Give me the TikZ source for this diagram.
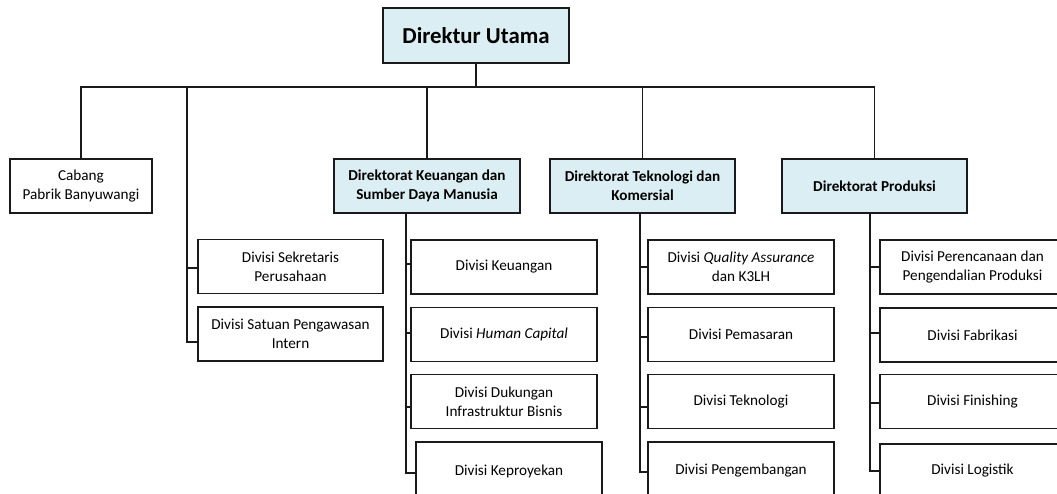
\documentclass[tikz,border=0pt]{standalone}
\usepackage{fontspec}
\setmainfont{Carlito}
\definecolor{headfill}{HTML}{DAEEF3}
\definecolor{inkline}{HTML}{1A1A1A}
\begin{document}
\begin{tikzpicture}[x=1pt,y=-1pt,
  every node/.style={inner sep=0pt, align=center, font=\fontsize{15.2}{19}\selectfont},
  unitbox/.style={draw=inkline, line width=1.4pt, fill=white, minimum width=186pt, minimum height=54pt},
  headbox/.style={unitbox, fill=headfill, font=\fontsize{15.2}{19}\selectfont\bfseries},
  topbox/.style={unitbox, fill=headfill, minimum height=55pt, font=\fontsize{22.8}{26}\selectfont\bfseries},
  link/.style={draw=inkline, line width=1.3pt}]
\useasboundingbox (0,0) rectangle (1057,493);
\fill[white] (0,0) rectangle (1057,493);
\clip (0,0) rectangle (1057,493);

% top level
\node[topbox] (du) at (476,35.5) {Direktur Utama};

% second level
\node[unitbox, minimum width=142pt] (cb) at (81,186) {Cabang\\Pabrik Banyuwangi};
\node[headbox] (dk) at (427,186) {Direktorat Keuangan dan\\Sumber Daya Manusia};
\node[headbox, minimum width=185pt] (dt) at (642.5,186) {Direktorat Teknologi dan\\Komersial};
\node[headbox, minimum width=185pt] (dp) at (874.5,186) {Direktorat Produksi};

% staff divisions under the president director
\node[unitbox, minimum width=185pt] (sk) at (290.5,266.5) {Divisi Sekretaris\\Perusahaan};
\node[unitbox, minimum width=185pt] (sp) at (290.5,334) {Divisi Satuan Pengawasan\\Intern};

% finance & HR divisions
\node[unitbox] (k1) at (504,267) {Divisi Keuangan};
\node[unitbox] (k2) at (504,334.5) {Divisi \textit{Human Capital}};
\node[unitbox] (k3) at (504,401.5) {Divisi Dukungan\\Infrastruktur Bisnis};
\node[unitbox, minimum height=58pt] (k4) at (509,471) {Divisi Keproyekan};

% technology & commercial divisions
\node[unitbox] (t1) at (741,267) {Divisi \textit{Quality Assurance}\\dan K3LH};
\node[unitbox] (t2) at (741,334.5) {Divisi Pemasaran};
\node[unitbox] (t3) at (741,401.5) {Divisi Teknologi};
\node[unitbox, minimum height=58pt] (t4) at (741,471) {Divisi Pengembangan};

% production divisions
\node[unitbox, minimum width=185pt] (p1) at (972.5,267) {Divisi Perencanaan dan\\Pengendalian Produksi};
\node[unitbox, minimum width=185pt] (p2) at (972.5,335) {Divisi Fabrikasi};
\node[unitbox, minimum width=185pt] (p3) at (972.5,401.5) {Divisi Finishing};
\node[unitbox, minimum width=185pt] (p4) at (972.5,471) {Divisi Logistik};

% main bus
\coordinate (bus) at (476,87);
\coordinate (staff) at (187,87);
\draw[link] (du.south) -- (bus);
\draw[link] (cb.north) |- (dp.north |- bus) -- (dp.north);
\draw[link] (dk.north |- bus) -- (dk.north);
\draw[link] (dt.north |- bus) -- (dt.north);

% staff spine
\draw[link] (staff) |- ([yshift=-1.5pt]sk.west);
\draw[link] (staff) |- ([yshift=-8pt]sp.west);

% directorate spines
\draw[link] ([xshift=-21pt]dk.south) |- ([yshift=3pt]k1.west);
\draw[link] ([xshift=-21pt]dk.south) |- ([yshift=1.5pt]k2.west);
\draw[link] ([xshift=-21pt]dk.south) |- ([yshift=-5.5pt]k3.west);
\draw[link] ([xshift=-21pt]dk.south) |- ([yshift=-2pt]k4.west);

\draw[link] ([xshift=-2.5pt]dt.south) |- (t1.west);
\draw[link] ([xshift=-2.5pt]dt.south) |- ([yshift=-2.5pt]t2.west);
\draw[link] ([xshift=-2.5pt]dt.south) |- ([yshift=-5.5pt]t3.west);
\draw[link] ([xshift=-2.5pt]dt.south) |- ([yshift=-1pt]t4.west);

\draw[link] ([xshift=-4.5pt]dp.south) |- (p1.west);
\draw[link] ([xshift=-4.5pt]dp.south) |- ([yshift=2pt]p2.west);
\draw[link] ([xshift=-4.5pt]dp.south) |- ([yshift=-1.5pt]p3.west);
\draw[link] ([xshift=-4.5pt]dp.south) |- (p4.west);
\end{tikzpicture}
\end{document}
